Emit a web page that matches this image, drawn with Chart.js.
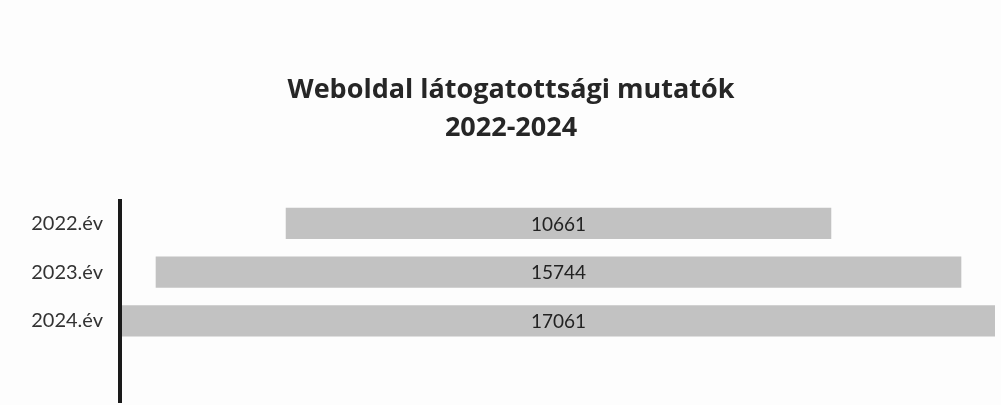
<!DOCTYPE html>
<html><head><meta charset="utf-8">
<script src="https://cdn.jsdelivr.net/npm/chart.js@4"></script>
<style>html,body{margin:0;padding:0;background:#fdfdfd;}#wrap{width:1001px;height:405px;position:relative;}</style>
</head><body><div id="wrap"><canvas id="c" width="1001" height="405"></canvas></div>
<script>
const categories = ['2022.év', '2023.év', '2024.év', ''];
const values = [10661, 15744, 17061, null];
const titleLines = ['Weboldal látogatottsági mutatók', '2022-2024'];

const maxV = Math.max(...values.filter(v => v != null));
const floating = values.map(v => v == null ? null : [-v / 2, v / 2]);

const titlePlugin = {
  id: 'ttl',
  afterDraw(chart) {
    const ctx = chart.ctx;
    ctx.save();
    ctx.fillStyle = '#262626';
    ctx.font = 'bold 27px "Open Sans"';
    ctx.textAlign = 'center';
    ctx.textBaseline = 'alphabetic';
    ctx.fillText(titleLines[0], 511, 98);
    ctx.fillText(titleLines[1], 511, 136);
    ctx.restore();
  }
};
const axisPlugin = {
  id: 'axisLine',
  afterDraw(chart) {
    const a = chart.chartArea, ctx = chart.ctx;
    ctx.save();
    ctx.fillStyle = '#1a1a1a';
    ctx.fillRect(a.left - 4, a.top, 4, a.bottom - a.top + 9);
    ctx.restore();
  }
};
const labelPlugin = {
  id: 'vals',
  afterDatasetsDraw(chart) {
    const ctx = chart.ctx;
    const meta = chart.getDatasetMeta(0);
    ctx.save();
    ctx.fillStyle = '#222';
    ctx.font = '19px Lato';
    ctx.textAlign = 'center';
    ctx.textBaseline = 'middle';
    meta.data.forEach((el, i) => {
      if (values[i] == null) return;
      ctx.fillText(String(values[i]), (el.x + el.base) / 2, el.y + 1);
    });
    ctx.restore();
  }
};

new Chart(document.getElementById('c'), {
  type: 'bar',
  data: {
    labels: categories,
    datasets: [{ data: floating, backgroundColor: '#c2c2c2', borderWidth: 0,
      categoryPercentage: 1, barPercentage: 0.64 }]
  },
  options: {
    indexAxis: 'y',
    responsive: false,
    animation: false,
    layout: { padding: { top: 199, bottom: 11, left: 0, right: 6 } },
    plugins: { legend: { display: false }, tooltip: { enabled: false }, title: { display: false } },
    scales: {
      x: { display: false, min: -maxV / 2, max: maxV / 2 },
      y: {
        afterFit(s) { s.width = 122; s.paddingTop = 0; s.paddingBottom = 0; },
        grid: { display: false, drawTicks: false },
        border: { display: false },
        ticks: { color: '#333', font: { family: 'Lato', size: 20 }, padding: 19 }
      }
    }
  },
  plugins: [titlePlugin, labelPlugin, axisPlugin]
});
</script></body></html>
